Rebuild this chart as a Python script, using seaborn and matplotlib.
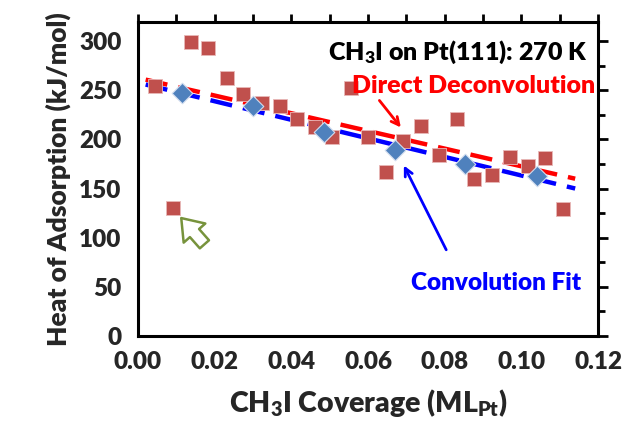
import matplotlib
matplotlib.use("Agg")
import matplotlib.pyplot as plt
from matplotlib.patches import FancyArrowPatch
from matplotlib.ticker import MultipleLocator
import seaborn as sns
import pandas as pd

# ---- data ----
dd_x = [0.0044, 0.0092, 0.0137, 0.0183, 0.0231, 0.0274, 0.0324, 0.0370, 0.0415,
        0.0461, 0.0506, 0.0555, 0.0600, 0.0646, 0.0691, 0.0737, 0.0785, 0.0832,
        0.0875, 0.0923, 0.0969, 0.1016, 0.1062, 0.1108]
dd_y = [254, 130, 299, 293, 263, 246, 237, 234, 221,
        213, 203, 252, 203, 167, 198, 214, 184, 221,
        160, 164, 182, 173, 181, 129]

cf_x = [0.0114, 0.0299, 0.0484, 0.0669, 0.0854, 0.1040]
cf_y = [247, 234, 208, 189, 175, 163]

red_fit_x = [0.002, 0.114]
red_fit_y = [261, 160]
blue_fit_x = [0.002, 0.114]
blue_fit_y = [256, 150]

x_ticks = [0.00, 0.02, 0.04, 0.06, 0.08, 0.10, 0.12]
y_ticks = [0, 50, 100, 150, 200, 250, 300]

sns.set_style("white")
plt.rcParams['font.family'] = ['Lato', 'DejaVu Sans']
plt.rcParams['font.weight'] = 'heavy'
plt.rcParams['mathtext.fontset'] = 'custom'
plt.rcParams['mathtext.rm'] = 'Lato:heavy'
plt.rcParams['mathtext.bf'] = 'Lato:heavy'
plt.rcParams['mathtext.default'] = 'bf'
W = 'heavy'

fig = plt.figure(figsize=(6.33, 4.44), dpi=100)
ax = fig.add_axes([0.218, 0.244, 0.727, 0.707])

df_dd = pd.DataFrame({"x": dd_x, "y": dd_y})
df_cf = pd.DataFrame({"x": cf_x, "y": cf_y})
df_rf = pd.DataFrame({"x": red_fit_x, "y": red_fit_y})
df_bf = pd.DataFrame({"x": blue_fit_x, "y": blue_fit_y})

sns.lineplot(data=df_rf, x="x", y="y", ax=ax, color="#FF0000", lw=3.2,
             zorder=2).lines[-1].set_dashes([5, 2.5])
sns.lineplot(data=df_bf, x="x", y="y", ax=ax, color="#0000FF", lw=3.2,
             zorder=2).lines[-1].set_dashes([5, 2.5])
sns.scatterplot(data=df_dd, x="x", y="y", ax=ax, marker="s", s=95,
                color="#C0504D", edgecolor="#E8B8B8", linewidth=0.6, zorder=3)
sns.scatterplot(data=df_cf, x="x", y="y", ax=ax, marker="D", s=110,
                color="#4F81BD", edgecolor="#D0DCEE", linewidth=0.8, zorder=4)

ax.set_xlim(0, 0.12)
ax.set_ylim(0, 320)
ax.set_xticks(x_ticks)
ax.set_xticklabels([f"{v:.2f}" for v in x_ticks])
ax.set_yticks(y_ticks)
ax.set_yticklabels([str(v) for v in y_ticks])
ax.xaxis.set_minor_locator(MultipleLocator(0.01))
ax.yaxis.set_minor_locator(MultipleLocator(25))

for sp in ax.spines.values():
    sp.set_visible(True)
    sp.set_linewidth(2.2)
    sp.set_color("black")

ax.tick_params(which="both", direction="out", top=True, right=True,
               width=2, color="black")
ax.tick_params(axis="y", which="major", length=7)
ax.tick_params(axis="y", which="minor", length=5)
ax.tick_params(axis="x", which="both", length=6)
ax.tick_params(axis="both", which="major", labelsize=17.5, pad=5)
for lab in ax.get_xticklabels() + ax.get_yticklabels():
    lab.set_fontweight(W)

ax.set_xlabel(r"CH$_3$I Coverage (ML$_{Pt}$)", fontsize=20.5, fontweight=W,
              labelpad=10)
ax.set_ylabel("Heat of Adsorption (kJ/mol)", fontsize=19, fontweight=W,
              labelpad=6)

ax.text(0.1172, 289, r"CH$_3$I on Pt(111): 270 K", ha="right", va="center",
        fontsize=18, fontweight=W, color="black")
ax.text(0.1193, 254, "Direct Deconvolution", ha="right", va="center",
        fontsize=18, fontweight=W, color="#FF0000")
ax.text(0.1156, 54, "Convolution Fit", ha="right", va="center",
        fontsize=17.5, fontweight=W, color="#0000FF")

ax.annotate("", xy=(0.069, 210), xytext=(0.0625, 242),
            arrowprops=dict(arrowstyle="->", color="#FF0000", lw=2,
                            mutation_scale=14))
ax.annotate("", xy=(0.069, 176), xytext=(0.0807, 85),
            arrowprops=dict(arrowstyle="->", color="#0000FF", lw=2,
                            mutation_scale=14))

green = FancyArrowPatch((0.0178, 91), (0.0108, 122),
                        arrowstyle="simple,head_length=0.9,head_width=1.3,tail_width=0.55",
                        mutation_scale=16, facecolor="white",
                        edgecolor="#77933C", lw=1.8, zorder=5)
ax.add_patch(green)

fig.savefig("out.png", dpi=100)
